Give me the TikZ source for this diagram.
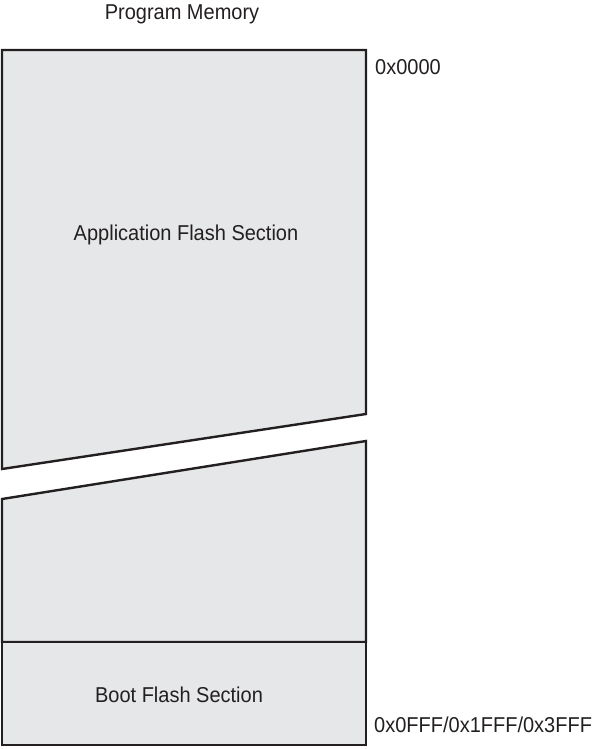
\documentclass[tikz,border=0pt]{standalone}
\usepackage{fontspec}
\setmainfont{Liberation Sans}[FakeStretch=0.93]
\usetikzlibrary{positioning}
\definecolor{flashgray}{HTML}{E6E7E8}
\definecolor{edgeblack}{HTML}{231F20}

\begin{document}
\begin{tikzpicture}[
  x=1pt, y=-1pt,
  every node/.style={font=\fontsize{21.5}{25}\selectfont, inner sep=0pt, text=edgeblack},
  section/.style={draw=edgeblack, fill=flashgray, line width=2.4pt, line join=miter},
  addr/.style={anchor=base west},
  caption/.style={anchor=base},
]
\useasboundingbox (0,0) rectangle (597,749);

% Memory outline corners
\coordinate (topL) at (2,50);
\coordinate (topR) at (366,50);
\coordinate (cutUL) at (2,469);
\coordinate (cutUR) at (366,414);
\coordinate (cutLL) at (2,499);
\coordinate (cutLR) at (366,441);
\coordinate (bootL) at (2,642);
\coordinate (bootR) at (366,642);
\coordinate (botL) at (2,745);
\coordinate (botR) at (366,745);

% Application section (upper part, broken)
\draw[section] (topL) -- (topR) -- (cutUR) -- (cutUL) -- cycle;
% Application section (lower part)
\draw[section] (cutLL) -- (cutLR) -- (bootR) -- (bootL) -- cycle;
% Boot section
\draw[section] (bootL) rectangle (botR);

% Labels
\node[caption] (title) at (182,20) {Program Memory};
\node[caption] (app) at (186,240) {Application Flash Section};
\node[caption] (boot) at (179,702) {Boot Flash Section};
\node[addr] (addrTop) at (375,75) {0x0000};
\node[addr] (addrEnd) at (374,732) {0x0FFF/0x1FFF/0x3FFF};

\end{tikzpicture}
\end{document}
